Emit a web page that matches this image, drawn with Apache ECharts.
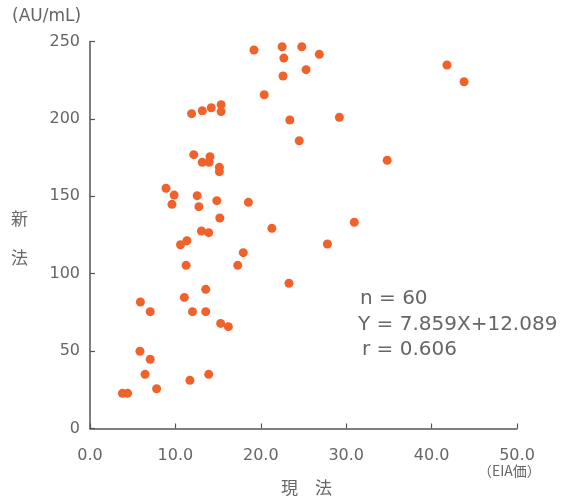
<!DOCTYPE html>
<html><head><meta charset="utf-8">
<script src="https://cdn.jsdelivr.net/npm/echarts@6/dist/echarts.min.js"></script>
<style>html,body{margin:0;padding:0;background:#fff}#c{width:563px;height:501px}</style>
</head><body><div id="c"></div>
<script>
const xTicks = [0, 10, 20, 30, 40, 50];
const yTicks = [0, 50, 100, 150, 200, 250];
const currentMethod = [19.2,20.4,11.9,13.15,14.2,15.35,15.35,12.15,13.15,14.05,13.95,15.15,15.15,
  22.5,24.8,22.7,26.85,22.6,25.3,23.4,29.2,24.5,34.8,41.8,43.8,
  8.9,9.85,9.6,12.55,12.75,14.85,18.55,15.2,21.3,13.05,13.9,11.35,10.6,17.95,17.3,11.25,13.55,11.05,5.9,
  30.95,27.8,23.3,
  7.05,12.0,13.55,15.3,16.2,5.85,7.05,6.45,11.7,13.9,7.8,3.8,4.4];
const newMethod = [244.5,215.6,203.4,205.3,207.2,209.2,204.7,176.9,172,175.6,172,168.7,165.9,
  246.6,246.6,239.3,241.7,227.7,231.8,199.3,201,185.9,173.3,234.8,224,
  155.2,150.8,144.8,150.4,143.3,147.2,146.1,136,129.3,127.6,126.5,121.3,118.7,113.6,105.4,105.4,89.9,84.7,81.7,
  133.2,119.2,93.8,
  75.5,75.5,75.5,67.9,65.8,49.9,44.7,35,31.1,35,25.7,22.7,22.7];
const stats = ['n = 60', 'Y = 7.859X+12.089', 'r = 0.606'];

const points = currentMethod.map((x, i) => [x, newMethod[i]]);
const gray = '#666';
const latin = '"DejaVu Sans", sans-serif';
const cjk = '"Noto Sans CJK JP", sans-serif';
const chart = echarts.init(document.getElementById('c'));
chart.setOption({
  animation: false,
  grid: {left: 90, right: 46, top: 41.5, bottom: 72.5},
  xAxis: {
    type: 'value', min: xTicks[0], max: xTicks[xTicks.length - 1], interval: 10,
    splitLine: {show: false},
    axisLine: {lineStyle: {color: '#555', width: 1.5}},
    axisTick: {inside: true, length: 5, lineStyle: {color: '#555', width: 1.2}},
    axisLabel: {color: gray, fontSize: 16, fontFamily: latin, margin: 19,
      formatter: v => v.toFixed(1)}
  },
  yAxis: {
    type: 'value', min: yTicks[0], max: yTicks[yTicks.length - 1], interval: 50,
    splitLine: {show: false},
    axisLine: {show: true, lineStyle: {color: '#555', width: 1.5}},
    axisTick: {show: true, inside: true, length: 5, lineStyle: {color: '#555', width: 1.2}},
    axisLabel: {color: gray, fontSize: 16, fontFamily: latin, margin: 10}
  },
  series: [{
    type: 'scatter', data: points, symbolSize: 9,
    itemStyle: {color: '#f0622a', opacity: 1}
  }],
  graphic: [
    {type: 'text', left: 12, top: 8, style: {text: '(AU/mL)', fill: gray, font: '17px ' + latin}},
    {type: 'text', left: 11, top: 210, style: {text: '新', fill: gray, font: '17px ' + cjk}},
    {type: 'text', left: 11, top: 249, style: {text: '法', fill: gray, font: '17px ' + cjk}},
    {type: 'text', left: 281, top: 479, style: {text: '現　法', fill: gray, font: '17px ' + cjk}},
    {type: 'text', left: 478, top: 464, style: {text: '（EIA価）', fill: gray, font: '14px ' + cjk}},
    {type: 'text', left: 360, top: 289, style: {text: stats[0], fill: gray, font: '20px ' + latin}},
    {type: 'text', left: 358, top: 315, style: {text: stats[1], fill: gray, font: '20px ' + latin}},
    {type: 'text', left: 362, top: 340, style: {text: stats[2], fill: gray, font: '20px ' + latin}}
  ]
});
</script></body></html>
